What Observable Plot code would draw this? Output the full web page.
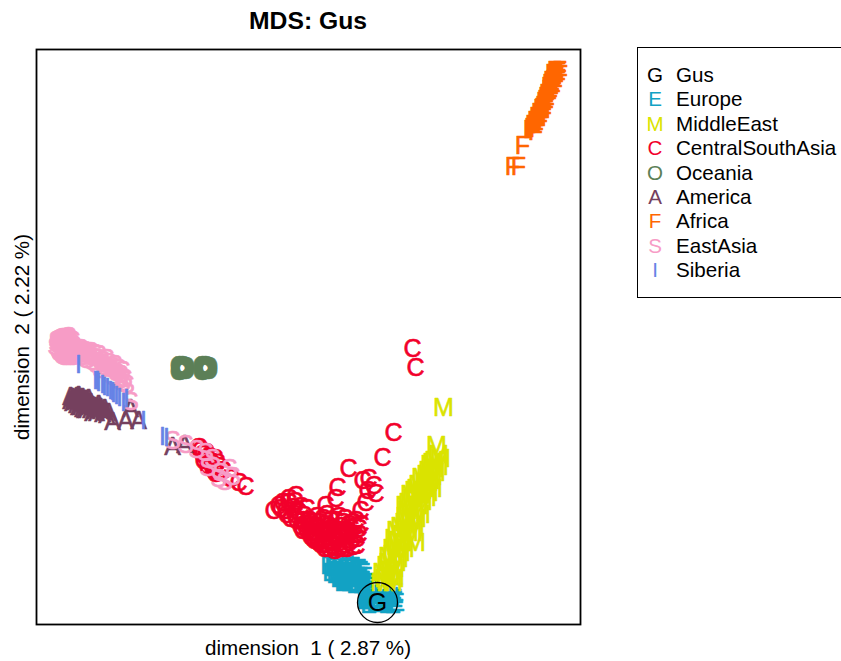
<!DOCTYPE html>
<html>
<head>
<meta charset="utf-8">
<script src="https://cdn.jsdelivr.net/npm/d3@7"></script>
<script src="https://cdn.jsdelivr.net/npm/@observablehq/plot@0.6"></script>
<style>
  html, body { margin: 0; padding: 0; background: #fff; overflow: hidden; }
  #wrap { position: relative; width: 841px; height: 661px; overflow: hidden; font-family: "Liberation Sans", Arial, Helvetica, sans-serif; color: #000; }
  #wrap svg { position: absolute; left: 0; top: 0; }
  .lbl { position: absolute; line-height: 1; white-space: pre; }
  .c { transform: translate(-50%, -50%); }
  .l { transform: translate(0, -50%); }
  #legendBox { position: absolute; left: 637px; top: 47px; width: 300px; height: 249px; border: 1.6px solid #000; }
</style>
</head>
<body>
<div id="wrap"></div>
<script>
// Groups, legend letters and colours
const groups  = ["Gus", "Europe", "MiddleEast", "CentralSouthAsia", "Oceania", "America", "Africa", "EastAsia", "Siberia"];
const letters = ["G", "E", "M", "C", "O", "A", "F", "S", "I"];
const colors  = ["#000000", "#12A2C4", "#DAE300", "#F2002B", "#5C7F57", "#75405E", "#FF6600", "#F79CC6", "#6682E6"];

// MDS coordinates (dimension 1, dimension 2), in units of 1e-3
const gus = [[69, -266]];
const europe = [[20,-229],[26,-227],[32,-230],[38,-228],[44,-230],[50,-232],[22,-236],[28,-234],[34,-237],[40,-235],
  [46,-238],[52,-240],[30,-242],[36,-244],[42,-242],[48,-246],[54,-244],[58,-250],[62,-254],[56,-259],[64,-262],
  [60,-268],[70,-267],[76,-264],[82,-260],[84,-268],[78,-268],[88,-266],[72,-258],[87,-256],[56,-264],
  [24,-231],[30,-228],[36,-232],[42,-232],[48,-234],[54,-236],[26,-238],[32,-240],[38,-240],[44,-240],[50,-242],
  [56,-240],[34,-246],[40,-246],[46,-248],[52,-248],[58,-246],[60,-258],[64,-258],[66,-266],[74,-262],[80,-266],
  [86,-262],[62,-264],[58,-262],[52,-234]];
const middleEast = [[135,-71],[128,-109],[132,-122],[124,-126],[130,-130],[120,-134],[127,-136],[113,-141],[122,-144],
  [117,-149],[108,-152],[124,-152],[106,-154],[112,-158],[104,-162],[118,-161],[97,-169],[110,-169],[102,-176],
  [97,-180],[112,-178],[96,-186],[106,-189],[88,-194],[100,-196],[107,-206],[90,-204],[84,-212],[96,-212],[80,-220],
  [90,-222],[78,-229],[86,-232],[74,-236],[82,-240],[76,-242],[86,-242],[72,-246],
  [130,-118],[126,-124],[122,-128],[126,-132],[118,-138],[124,-140],[116,-146],[120,-146],[110,-148],[114,-154],
  [120,-156],[108,-158],[102,-158],[100,-166],[114,-165],[106,-172],[99,-174],[108,-182],[102,-184],[92,-190],
  [98,-192],[104,-196],[94,-198],[86,-202],[94,-206],[88,-210],[92,-216],[84,-218],[80,-226],[88,-226],[82,-234],
  [78,-238],[84,-246],[78,-246]];
const centralSouthAsia = [[-110,-111],[-108,-114],[-103,-116],[-100,-120],[-105,-124],[-98,-126],[-94,-122],[-96,-132],
  [-90,-130],[-101,-130],[-93,-137],[-86,-134],[-78,-142],[-70,-146],[-63,-150],
  [104,-12],[107,-31],[85,-96],[74,-121],[40,-132],[60,-142],[54,-144],[65,-149],[59,-154],[67,-157],[57,-166],
  [52,-174],[29,-151],[27,-162],[17,-169],[-20,-162],[-13,-159],[-30,-169],[-35,-174],
  [-23,-174],[-16,-171],[-10,-176],[-18,-182],[-12,-184],[-5,-179],[0,-184],[-8,-190],[-2,-194],[4,-189],[10,-186],
  [6,-196],[12,-194],[16,-188],[22,-192],[18,-200],[24,-198],[30,-194],[28,-204],[34,-200],[40,-196],[36,-208],
  [42,-204],[46,-198],[32,-210],[38,-212],[44,-210],[22,-206],[14,-204],[8,-202],[2,-200],[20,-212],[26,-214],
  [48,-209],[50,-192],[27,-184],[34,-186],[40,-188],[47,-184],[4,-202],[12,-208],
  [-20,-166],[-14,-165],[-8,-170],[-2,-172],[-22,-178],[-14,-178],[-6,-184],[-4,-188],[2,-186],[8,-190],[0,-190],
  [-6,-194],[2,-196],[10,-192],[14,-196],[18,-194],[20,-190],[26,-194],[32,-190],[36,-194],[42,-192],[46,-190],
  [38,-198],[44,-202],[30,-200],[26,-202],[20,-204],[16,-208],[10,-206],[6,-204],[24,-210],[30,-206],[34,-212],
  [40,-206],[48,-202],[50,-198],[52,-188],[44,-186],[36,-182],[30,-180],[22,-184],[14,-182],[8,-180],[18,-178],
  [-12,-174],[-28,-172],[-26,-166],[16,-212],[30,-212],[-106,-118],[-102,-122],[-97,-128],[-92,-126],[-95,-134]];
const oceania = [[-127,-30],[-125,-32],[-128,-33],[-126,-31],[-104,-30],[-102,-32],[-105,-33],[-103,-31],
  [-126,-29],[-128,-31],[-124,-31],[-127,-34],[-125,-33],[-103,-29],[-105,-31],[-101,-31],[-104,-34],[-102,-33],
  [-129,-29],[-123,-30],[-129,-35],[-123,-34],[-106,-29],[-100,-30],[-106,-35],[-100,-34]];
const america = [[-238,-60],[-234,-62],[-230,-59],[-226,-61],[-236,-66],[-232,-68],[-228,-65],[-224,-67],[-222,-63],
  [-218,-66],[-220,-70],[-216,-69],[-212,-71],[-214,-74],[-210,-68],[-208,-74],[-204,-72],[-206,-77],[-230,-70],
  [-224,-73],[-200,-76],[-196,-85],[-183,-84],[-178,-72],[-170,-84],[-136,-110],[-124,-108],
  [-236,-61],[-232,-60],[-228,-62],[-224,-63],[-220,-62],[-234,-65],[-230,-64],[-226,-66],[-222,-68],[-218,-68],
  [-214,-70],[-210,-72],[-212,-76],[-208,-71],[-204,-75],[-202,-78],[-228,-70],[-226,-72],[-222,-73],[-218,-73],
  [-216,-76],[-238,-64],[-232,-64]];
const africa = [[250,265],[247,264],[244,263],[248,260],[245,258],[242,256],[246,254],[243,251],[240,250],[244,248],
  [241,245],[238,243],[242,241],[239,238],[236,237],[237,233],[234,231],[238,230],[233,226],[236,224],[231,222],
  [234,220],[229,218],[232,216],[227,214],[230,212],[225,210],[228,208],[223,209],[214,191],[204,170],[210,170],
  [251,266],[249,262],[246,266],[252,262],[247,259],[250,258],[244,257],[248,256],[245,253],[241,253],[247,251],
  [242,249],[245,246],[240,247],[243,244],[239,241],[237,240],[241,239],[238,236],[235,235],[239,233],[236,232],
  [233,229],[236,228],[232,228],[234,226],[230,224],[234,222],[232,220],[228,220],[230,218],[226,216],[230,214],
  [228,212],[224,212],[226,210],[222,207],[225,207],[227,205]];
const eastAsia = [[-252,-4],[-248,-2],[-244,-1],[-240,-2],[-250,-8],[-246,-6],[-242,-5],[-238,-6],[-251,-12],[-247,-11],
  [-243,-10],[-239,-10],[-235,-9],[-249,-16],[-245,-15],[-241,-14],[-237,-14],[-233,-13],[-246,-19],[-242,-19],
  [-238,-18],[-234,-17],[-230,-16],[-244,-3],[-236,-4],
  [-250,-3],[-246,-1],[-242,-3],[-238,-3],[-252,-7],[-248,-9],[-244,-7],[-240,-8],[-236,-8],[-250,-14],[-246,-13],
  [-242,-12],[-238,-12],[-234,-11],[-247,-17],[-243,-17],[-239,-16],[-235,-15],[-231,-14],[-244,-20],[-240,-20],
  [-236,-20],[-232,-19],[-228,-17],[-253,-10],[-248,-5],[-240,0],
  [-228,-12],[-224,-14],[-220,-16],[-226,-20],[-218,-20],[-214,-17],[-222,-23],[-216,-25],[-210,-22],[-212,-28],
  [-206,-24],[-204,-30],[-200,-26],[-208,-33],[-198,-32],[-194,-28],[-192,-36],[-196,-40],[-188,-38],[-186,-34],
  [-190,-44],[-184,-42],[-182,-48],[-226,-15],[-222,-18],[-218,-15],[-214,-21],[-210,-18],[-206,-27],[-202,-22],
  [-196,-30],[-190,-32],[-188,-42],[-186,-46],
  [-178,-65],[-136,-104],[-123,-108],[-112,-113],[-103,-116],[-96,-122],
  [-101,-131],[-88,-136],[-79,-132],[-90,-142],[-76,-140],[-84,-145]];
const siberia = [[-230,-28],[-213,-44],[-210,-46],[-206,-48],[-201,-51],[-198,-54],[-195,-57],[-192,-59],[-189,-61],
  [-185,-66],[-182,-62],[-165,-84],[-146,-100],[-142,-101],[-211,-44],[-204,-50],[-196,-55]];

const pointsByGroup = {
  Gus: gus, Europe: europe, MiddleEast: middleEast, CentralSouthAsia: centralSouthAsia, Oceania: oceania,
  America: america, Africa: africa, EastAsia: eastAsia, Siberia: siberia
};
const drawOrder = ["Europe", "MiddleEast", "CentralSouthAsia", "Oceania", "America", "EastAsia", "Siberia", "Africa", "Gus"];

const title = "MDS: Gus";
const xLabel = "dimension  1 ( 2.87 %)";
const yLabel = "dimension  2 ( 2.22 %)";

const textMarks = drawOrder.map(g => {
  const i = groups.indexOf(g);
  return Plot.text(pointsByGroup[g], {
    x: d => d[0], y: d => d[1], text: () => letters[i], fill: colors[i],
    stroke: g === "Gus" ? "none" : colors[i], strokeWidth: 0.6, fontSize: 25
  });
});

const chart = Plot.plot({
  width: 841, height: 661,
  marginLeft: 36, marginRight: 261, marginTop: 49, marginBottom: 37,
  x: {domain: [-272, 272], axis: null},
  y: {domain: [-288, 287], axis: null},
  style: {fontFamily: "'Liberation Sans', Arial, Helvetica, sans-serif", background: "transparent"},
  marks: [
    ...textMarks,
    Plot.dot(gus, {x: d => d[0], y: d => d[1], r: 20, stroke: "#000", strokeWidth: 1.3, fill: "none"}),
    Plot.frame({stroke: "#000", strokeWidth: 1.8})
  ]
});

const wrap = document.getElementById("wrap");
wrap.appendChild(chart);

function addLabel(text, left, top, cls, extra) {
  const d = document.createElement("div");
  d.className = "lbl " + cls;
  d.textContent = text;
  d.style.left = left + "px";
  d.style.top = top + "px";
  Object.assign(d.style, extra || {});
  wrap.appendChild(d);
  return d;
}
addLabel(title, 308, 21, "c", {fontSize: "24.7px", fontWeight: "bold"});
addLabel(xLabel, 308, 648, "c", {fontSize: "20.6px"});
addLabel(yLabel, 22, 337, "c", {fontSize: "20.6px", transform: "translate(-50%, -50%) rotate(-90deg)"});

const box = document.createElement("div");
box.id = "legendBox";
wrap.appendChild(box);
groups.forEach((g, i) => {
  const cy = 75 + i * 24.4;
  addLabel(letters[i], 655, cy, "c", {fontSize: "20.6px", color: colors[i]});
  addLabel(g, 676, cy, "l", {fontSize: "20.6px"});
});
</script>
</body>
</html>
